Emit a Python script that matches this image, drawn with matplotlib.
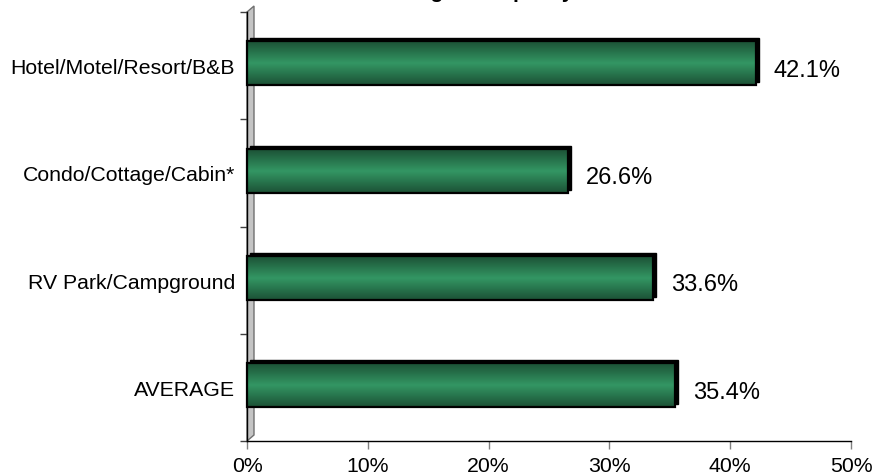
import numpy as np
import matplotlib
matplotlib.use("Agg")
import matplotlib.pyplot as plt
from matplotlib.patches import Rectangle, Polygon
from matplotlib.colors import LinearSegmentedColormap
import matplotlib.transforms as mtransforms

plt.rcParams['font.family'] = ['Liberation Sans', 'DejaVu Sans']

categories = ['Hotel/Motel/Resort/B&B', 'Condo/Cottage/Cabin*',
              'RV Park/Campground', 'AVERAGE']
rates = [42.1, 26.6, 33.6, 35.4]
x_ticks = [0, 10, 20, 30, 40, 50]
x_tick_labels = ['0%', '10%', '20%', '30%', '40%', '50%']

W, H = 875, 477
fig = plt.figure(figsize=(W / 100, H / 100), dpi=100)
ax = fig.add_axes([247 / W, 1 - 442 / H, 604 / W, 429 / H])

ax.set_xlim(0, 50)
ax.set_ylim(len(categories) - 0.5, -0.5)

# gradient used on the front face of every bar
shade = LinearSegmentedColormap.from_list(
    'bar', [(0.11, 0.32, 0.21), (0.20, 0.59, 0.39), (0.11, 0.32, 0.21)])
grad = np.linspace(0, 1, 64).reshape(-1, 1)

bar_h = 0.41
px_x = 50 / 604          # data units per pixel, horizontal
px_y = 1 / 107.0         # data units per pixel, vertical
pt = 72 / 100            # points per pixel

# grey side wall of the 3D plot area
wall = mtransforms.blended_transform_factory(ax.transAxes, ax.transAxes)
wx = 7 / 604
wy = 6 / 429
ax.add_patch(Polygon([(0, 0), (wx, wy), (wx, 1 + wy), (0, 1)],
                     closed=True, facecolor='#c4c4c4', edgecolor='#707070',
                     lw=1, transform=wall, clip_on=False, zorder=1))

for i, v in enumerate(rates):
    yc = i - 0.02
    top = yc - bar_h / 2
    # depth faces (top and right) drawn as a shifted dark block
    ax.add_patch(Rectangle((3 * px_x, top - 3 * px_y), v, bar_h,
                           facecolor='black', edgecolor='black',
                           lw=1, zorder=2, clip_on=False))
    ax.imshow(grad, cmap=shade, aspect='auto', interpolation='bilinear',
              extent=(0, v, top + bar_h, top), zorder=3, clip_on=False)
    ax.add_patch(Rectangle((0, top), v, bar_h, facecolor='none',
                           edgecolor='black', lw=1.6, zorder=4,
                           clip_on=False))
    ax.text(v + 18 * px_x, yc + 0.06, f'{v:.1f}%', ha='left', va='center',
            fontsize=17, color='black')

ax.set_xlim(0, 50)
ax.set_ylim(len(categories) - 0.5, -0.5)

ax.set_xticks(x_ticks)
ax.set_xticklabels(x_tick_labels, fontsize=15.3)
ax.tick_params(axis='x', direction='out', length=8 * pt, width=1,
               color='#808080', pad=7 * pt)

# category boundaries carry the tick marks, labels sit between them
ax.set_yticks(np.arange(-0.5, len(categories), 1.0))
ax.set_yticklabels([])
ax.set_yticks(np.arange(len(categories)), minor=True)
ax.set_yticklabels(categories, minor=True, fontsize=15.3)
ax.tick_params(axis='y', which='major', direction='out', length=7 * pt,
               width=1, color='#404040')
ax.tick_params(axis='y', which='minor', length=0, pad=12 * pt)

for side in ('top', 'right'):
    ax.spines[side].set_visible(False)
for side in ('left', 'bottom'):
    ax.spines[side].set_color('black')
    ax.spines[side].set_linewidth(1)

fig.text(499 / W, 1 + 1.5 / H, 'Average Occupancy Rate', ha='center',
         va='baseline', fontsize=15, fontweight='bold')

fig.savefig('out.png', dpi=100)
